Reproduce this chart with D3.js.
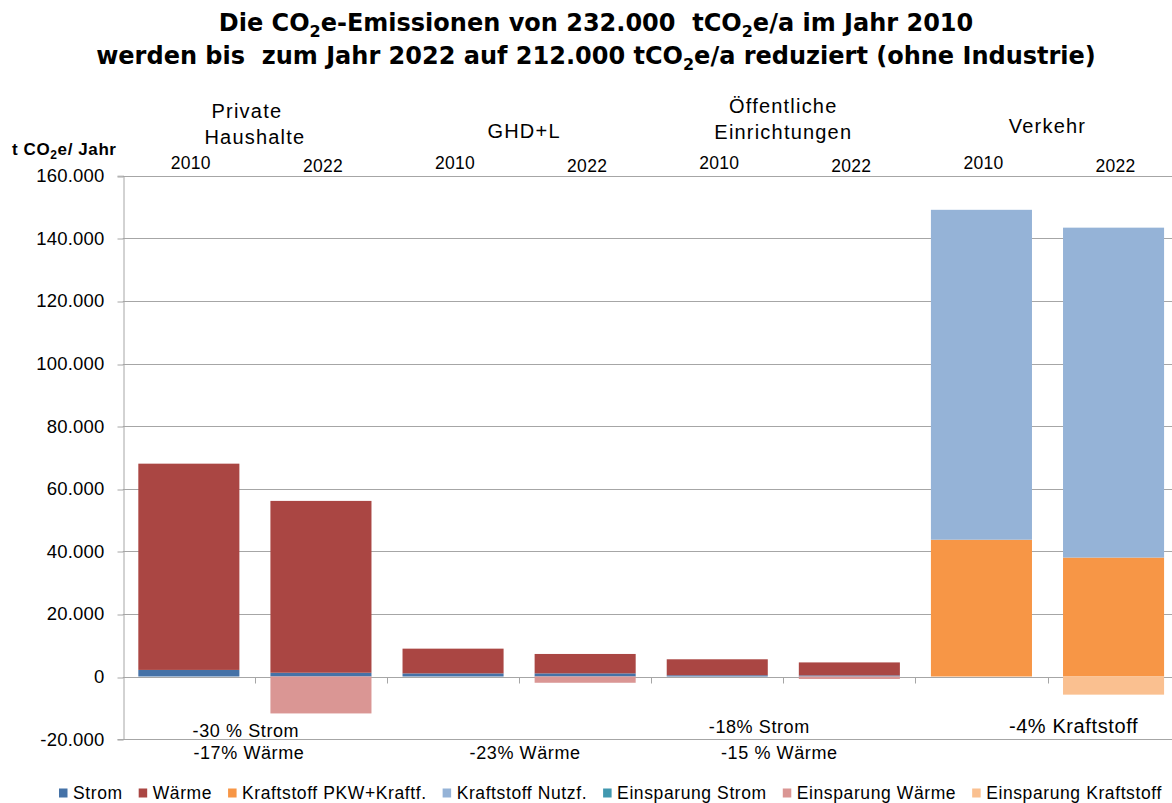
<!DOCTYPE html>
<html>
<head>
<meta charset="utf-8">
<script src="https://cdn.jsdelivr.net/npm/d3@7"></script>
<style>
  body { margin: 0; background: #ffffff; }
  text { font-family: "Liberation Sans", Arial, sans-serif; fill: #000; white-space: pre; }
</style>
</head>
<body>
<div id="chart"></div>
<script>
// data (t CO2e / Jahr)
const bars = ["PH 2010", "PH 2022", "GHD 2010", "GHD 2022", "ÖE 2010", "ÖE 2022", "V 2010", "V 2022"];
const years = ["2010", "2022", "2010", "2022", "2010", "2022", "2010", "2022"];
const groups = [["Private", "Haushalte"], ["GHD+L"], ["Öffentliche", "Einrichtungen"], ["Verkehr"]];

const strom = [2100, 1200, 1000, 1000, 400, 350, 0, 0];
const waerme = [65900, 54900, 7900, 6200, 5100, 4150, 0, 0];
const kraftPKW = [0, 0, 0, 0, 0, 0, 43700, 38000];
const kraftNutzf = [0, 0, 0, 0, 0, 0, 105400, 105400];
const einsparStrom = [0, 0, 0, 0, 0, 0, 0, 0];
const einsparWaerme = [0, -11800, 0, -2000, 0, -800, 0, 0];
const einsparKraft = [0, 0, 0, 0, 0, 0, 0, -5800];

const seriesNames = ["Strom", "Wärme", "Kraftstoff PKW+Kraftf.", "Kraftstoff Nutzf.",
  "Einsparung Strom", "Einsparung Wärme", "Einsparung Kraftstoff"];
const seriesColors = ["#4572a7", "#aa4643", "#f79646", "#95b3d7", "#4198af", "#da9694", "#fac090"];

const yTicks = [-20000, 0, 20000, 40000, 60000, 80000, 100000, 120000, 140000, 160000];

// reduction notes below the chart: text, group, row
const notes = [
  { text: "-30 % Strom", group: 0, row: 0 },
  { text: "-17% Wärme", group: 0, row: 1 },
  { text: "-23% Wärme", group: 1, row: 1 },
  { text: "-18% Strom", group: 2, row: 0 },
  { text: "-15 % Wärme", group: 2, row: 1 },
  { text: "-4% Kraftstoff", group: 3, row: 0 },
];

(function () {
  const W = 1172, H = 803;
  const left = 122.8, right = 1179.6, top = 175.7, bottom = 739.1;

  const svg = d3.select("#chart").append("svg")
    .attr("width", W).attr("height", H);

  const rows = bars.map((b, i) => ({
    bar: b,
    "Strom": strom[i],
    "Wärme": waerme[i],
    "Kraftstoff PKW+Kraftf.": kraftPKW[i],
    "Kraftstoff Nutzf.": kraftNutzf[i],
    "Einsparung Strom": einsparStrom[i],
    "Einsparung Wärme": einsparWaerme[i],
    "Einsparung Kraftstoff": einsparKraft[i],
  }));

  const x = d3.scaleBand().domain(bars).range([left, right])
    .paddingInner(0.235).paddingOuter(0.1175);
  const y = d3.scaleLinear().domain([-20000, 160000]).range([bottom, top]);
  const color = d3.scaleOrdinal().domain(seriesNames).range(seriesColors);

  const de = d3.formatLocale({ decimal: ",", thousands: ".", grouping: [3], currency: ["", " €"], minus: "-" });
  const fmt = de.format(",");

  // title
  const title = svg.append("text")
    .attr("text-anchor", "middle")
    .style("font-family", "'DejaVu Sans', Verdana, sans-serif")
    .style("font-weight", "bold")
    .style("font-size", "24px");
  const t1 = title.append("tspan").attr("x", 596).attr("y", 31);
  t1.append("tspan").text("Die CO");
  t1.append("tspan").attr("dy", 6).style("font-size", "16px").text("2");
  t1.append("tspan").attr("dy", -6).text("e-Emissionen von 232.000  tCO");
  t1.append("tspan").attr("dy", 6).style("font-size", "16px").text("2");
  t1.append("tspan").attr("dy", -6).text("e/a im Jahr 2010");
  const t2 = title.append("tspan").attr("x", 596).attr("y", 64);
  t2.append("tspan").text("werden bis  zum Jahr 2022 auf 212.000 tCO");
  t2.append("tspan").attr("dy", 6).style("font-size", "16px").text("2");
  t2.append("tspan").attr("dy", -6).text("e/a reduziert (ohne Industrie)");

  // gridlines
  svg.append("g")
    .selectAll("line")
    .data(yTicks)
    .join("line")
    .attr("x1", left).attr("x2", W)
    .attr("y1", d => Math.round(y(d)) + 0.5).attr("y2", d => Math.round(y(d)) + 0.5)
    .attr("stroke", "#a6a6a6").attr("stroke-width", 1);

  // y axis
  const yAxis = svg.append("g")
    .attr("transform", `translate(${Math.round(left) + 0.5},0)`)
    .call(d3.axisLeft(y).tickValues(yTicks).tickFormat(fmt).tickSize(6).tickPadding(13));
  yAxis.select(".domain").attr("stroke", "#a6a6a6");
  yAxis.selectAll(".tick line").attr("stroke", "#a6a6a6")
    .attr("transform", d => `translate(0,${Math.round(y(d)) + 0.5 - y(d)})`);
  yAxis.selectAll(".tick text")
    .style("font-family", "'Liberation Sans', Arial, sans-serif")
    .style("font-size", "18.5px").style("letter-spacing", "0.2px").attr("fill", "#000");

  // y axis label
  const yl = svg.append("text").attr("x", 12).attr("y", 155)
    .style("font-weight", "bold").style("font-size", "17px").style("letter-spacing", "0.6px");
  yl.append("tspan").text("t CO");
  yl.append("tspan").attr("dy", 4).style("font-size", "12px").text("2");
  yl.append("tspan").attr("dy", -4).text("e/ Jahr");

  // stacked bars
  const stack = d3.stack().keys(seriesNames).offset(d3.stackOffsetDiverging);
  const series = stack(rows);

  svg.append("g")
    .selectAll("g")
    .data(series)
    .join("g")
    .attr("fill", d => color(d.key))
    .selectAll("rect")
    .data(d => d.filter(p => p[1] !== p[0]))
    .join("rect")
    .attr("x", d => x(d.data.bar))
    .attr("width", x.bandwidth())
    .attr("y", d => y(Math.max(d[0], d[1])))
    .attr("height", d => Math.abs(y(d[0]) - y(d[1])));

  // category axis at zero with ticks between bars
  const step = x.step();
  const zeroY = Math.round(y(0)) + 0.5;
  const boundaries = d3.range(1, bars.length).map(i => x(bars[i]) - (step - x.bandwidth()) / 2);
  svg.append("g")
    .selectAll("line")
    .data(boundaries)
    .join("line")
    .attr("x1", d => Math.round(d) + 0.5).attr("x2", d => Math.round(d) + 0.5)
    .attr("y1", zeroY).attr("y2", zeroY + 6)
    .attr("stroke", "#a6a6a6");

  // year labels above bars
  svg.append("g")
    .selectAll("text")
    .data(bars)
    .join("text")
    .attr("x", d => x(d) + x.bandwidth() / 2 + 2)
    .attr("y", (d, i) => i % 2 === 0 ? 169 : 172)
    .attr("text-anchor", "middle")
    .style("font-size", "17.5px").style("letter-spacing", "0.3px")
    .text((d, i) => years[i]);

  // group labels
  const groupCenter = g => x(bars[g * 2 + 1]) - (step - x.bandwidth()) / 2;
  groups.forEach((lines, g) => {
    const t = svg.append("text")
      .attr("text-anchor", "middle")
      .style("font-size", "20px").style("letter-spacing", "1.2px");
    lines.forEach((ln, j) => {
      t.append("tspan")
        .attr("x", groupCenter(g) - (lines.length > 1 && g === 0 && j === 0 ? 8 : 0) + (g === 1 ? 5 : 0))
        .attr("y", lines.length > 1 ? (g === 0 ? 118 : 113) + j * 26 : (g === 1 ? 138 : 133))
        .text(ln);
    });
  });

  // reduction notes
  const noteDx = [-9, -6, 6, -24, -4, 26];
  svg.append("g")
    .selectAll("text")
    .data(notes)
    .join("text")
    .attr("x", (d, i) => groupCenter(d.group) + noteDx[i])
    .attr("y", d => d.row === 0 ? (d.group === 0 ? 737 : 733) : 759)
    .attr("text-anchor", "middle")
    .style("font-size", d => d.group === 3 ? "20px" : "18px")
    .style("letter-spacing", "0.6px")
    .text(d => d.text);

  // legend
  const legend = svg.append("g").attr("transform", "translate(59,793)");
  let lx = 0;
  seriesNames.forEach(name => {
    const item = legend.append("g").attr("transform", `translate(${lx},0)`);
    item.append("rect").attr("x", 0).attr("y", -4.5).attr("width", 8.5).attr("height", 9)
      .attr("fill", color(name));
    const txt = item.append("text").attr("x", 14).attr("y", 6)
      .style("font-size", "17.5px").style("letter-spacing", "0.6px").text(name);
    lx += 14 + txt.node().getComputedTextLength() + 16;
  });
})();
</script>
</body>
</html>
